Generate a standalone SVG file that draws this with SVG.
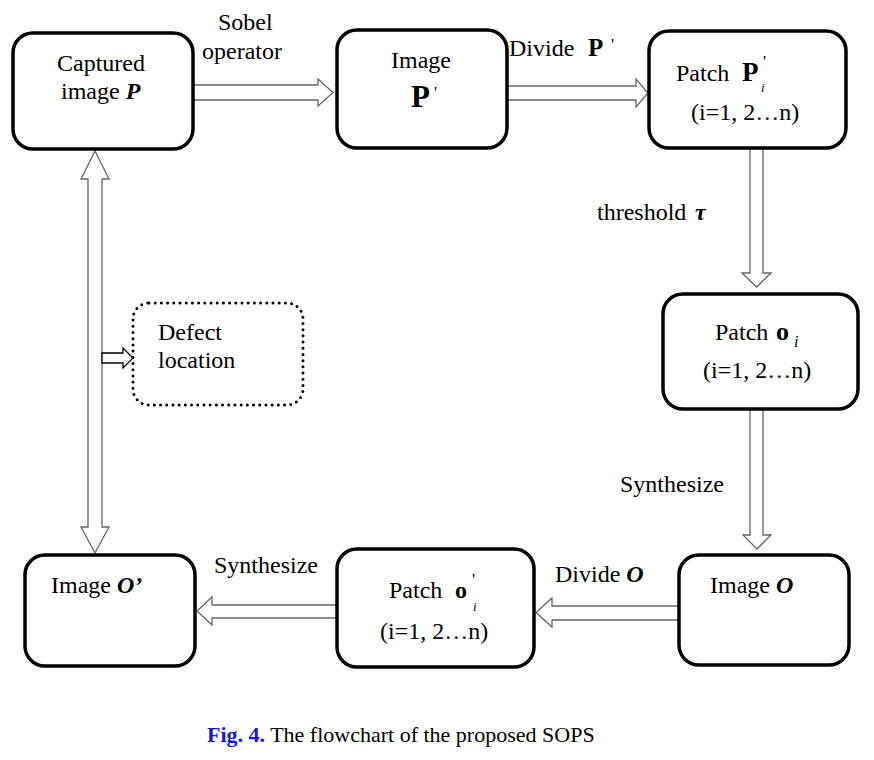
<svg xmlns="http://www.w3.org/2000/svg" width="874" height="760" viewBox="0 0 874 760">
<style>
.box{fill:#fff;stroke:#000;stroke-width:3.5}
.dot{fill:none;stroke:#000;stroke-width:3;stroke-dasharray:0 6.2;stroke-linecap:round}
.arr{fill:#fff;stroke:#666;stroke-width:1.3;stroke-linejoin:miter}
text{font-family:"Liberation Serif","Times New Roman",serif;font-size:24px;fill:#000}
.b{font-weight:bold}
.bi{font-weight:bold;font-style:italic}
.it{font-style:italic}
.pr{font-size:17px}
.sub{font-size:13px;font-style:italic}
.cap{font-size:22px}
.blue{fill:#1414f0;font-weight:bold}
</style>
<rect width="874" height="760" fill="#fff"/>
<g id="connectors">
<polygon class="arr" points="193,85 318,85 318,79 333,92.5 318,106 318,100 193,100"/>
<polygon class="arr" points="507,86 636,86 636,79 648,93 636,107 636,100 507,100"/>
<polygon class="arr" points="750,148 750,273 742,273 756.5,287 771,273 763,273 763,148"/>
<polygon class="arr" points="750,409 750,535 743,535 757,549 771,535 763,535 763,409"/>
<polygon class="arr" points="679,606 552,606 552,598 536,612.5 552,627 552,620 679,620"/>
<polygon class="arr" points="338,605 212,605 212,597 197,611 212,625 212,618 338,618"/>
<polygon class="arr" points="95,151 109,179 102,179 102,527 109,527 95,553 81,527 88,527 88,179 81,179"/>
<polygon class="arr" points="102,353 123,353 123,348 133,358 123,368 123,363 102,363" style="stroke:#000"/>
<text x="218" y="30">Sobel</text>
<text x="202" y="59">operator</text>
<text x="509" y="56">Divide</text>
<text class="b" x="588" y="56" style="font-size:25px">P</text>
<text class="pr" x="611" y="50">'</text>
<text x="597" y="220">threshold</text>
<text class="bi" x="695" y="220">τ</text>
<text x="620" y="492">Synthesize</text>
<text x="555" y="582">Divide <tspan class="bi">O</tspan></text>
<text x="214" y="573">Synthesize</text>
</g>
<g id="captured">
<rect class="box" x="13" y="33" width="180" height="116" rx="20"/>
<text x="57" y="71">Captured</text>
<text x="61" y="99">image <tspan class="bi">P</tspan></text>
</g>
<g id="imageP">
<rect class="box" x="337" y="30" width="170" height="118" rx="20"/>
<text x="391" y="68">Image</text>
<text class="b" x="411" y="107" style="font-size:31px">P</text>
<text class="pr" x="434" y="98">'</text>
</g>
<g id="patchP">
<rect class="box" x="649" y="31" width="197" height="117" rx="20"/>
<text x="676" y="81">Patch</text>
<text class="b" x="742" y="81" style="font-size:27px">P</text>
<text class="pr" x="763" y="67">'</text>
<text class="sub" x="761" y="92">i</text>
<text x="691" y="120">(i=1, 2…n)</text>
</g>
<g id="patchO">
<rect class="box" x="663" y="294" width="195" height="115" rx="20"/>
<text x="715" y="340">Patch</text>
<text class="b" x="776" y="340" style="font-size:26px">o</text>
<text class="it" x="794" y="347" style="font-size:16px">i</text>
<text x="703" y="378">(i=1, 2…n)</text>
</g>
<g id="imageO">
<rect class="box" x="679" y="555" width="170" height="110" rx="20"/>
<text x="710" y="593">Image <tspan class="bi">O</tspan></text>
</g>
<g id="patchO2">
<rect class="box" x="337" y="549" width="197" height="118" rx="20"/>
<text x="389" y="598">Patch</text>
<text class="b" x="455" y="598">o</text>
<text class="pr" x="472" y="585">'</text>
<text class="sub" x="473" y="611">i</text>
<text x="380" y="639">(i=1, 2…n)</text>
</g>
<g id="imageO2">
<rect class="box" x="25" y="555" width="170" height="111" rx="20"/>
<text x="51" y="593">Image <tspan class="bi">O’</tspan></text>
</g>
<g id="defect">
<rect class="dot" x="133" y="303" width="170" height="102" rx="16"/>
<text x="158" y="340">Defect</text>
<text x="158" y="368">location</text>
</g>
<g id="caption">
<text class="cap" x="207" y="742"><tspan class="blue">Fig. 4.</tspan> The flowchart of the proposed SOPS</text>
</g>
</svg>
